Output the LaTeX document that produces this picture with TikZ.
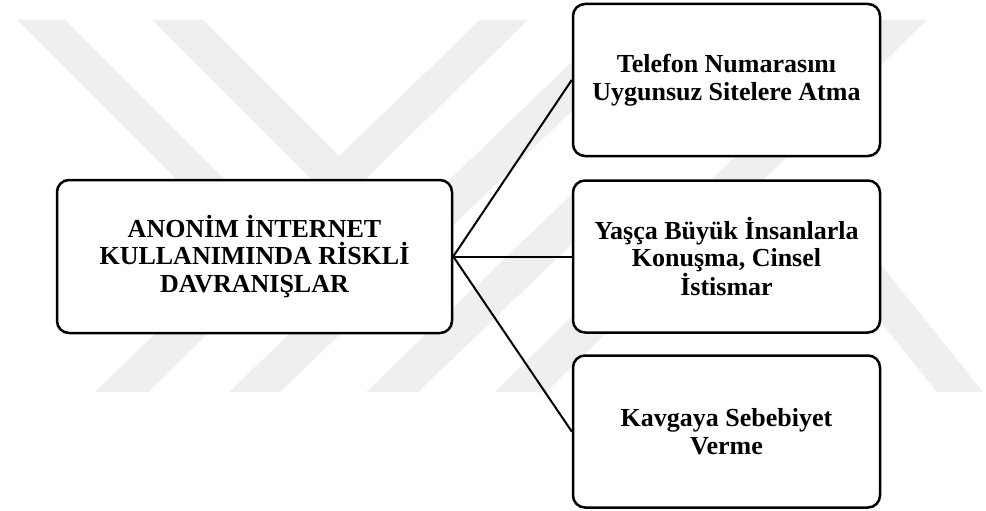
\documentclass[tikz,border=0pt]{standalone}
\usepackage{fontspec}
\setmainfont{Liberation Serif}
\definecolor{wmgray}{RGB}{239,239,239}
\tikzset{
  riskbox/.style={draw=black, line width=2.5pt, rounded corners=12pt, fill=white,
    align=center, font=\fontsize{26}{27.5}\selectfont\bfseries, inner sep=0pt},
  leftbox/.style={riskbox, minimum width=395pt, minimum height=153pt},
  rightbox/.style={riskbox, minimum width=307pt, minimum height=152pt},
  link/.style={draw=black, line width=2pt},
  wmark/.style={fill=wmgray, draw=none}
}
\begin{document}
\begin{tikzpicture}[x=1pt,y=-1pt]
\useasboundingbox (0,0) rectangle (986,511);
\fill[white] (0,0) rectangle (986,511);
% faint watermark
\fill[wmark] (17,20) -- (65,20) -- (305,260) -- (257,260) -- cycle;
\fill[wmark] (152,20) -- (203,20) -- (383,200) -- (332,200) -- cycle;
\fill[wmark] (480,20) -- (528,20) -- (148,392) -- (95,392) -- cycle;
\fill[wmark] (229,392) -- (280,392) -- (656,30) -- (605,30) -- cycle;
\fill[wmark] (366,392) -- (418,392) -- (628,190) -- (576,190) -- cycle;
\fill[wmark] (875,20) -- (927,20) -- (546,392) -- (495,392) -- cycle;
\fill[wmark] (807,230) -- (853,230) -- (983,392) -- (937,392) -- cycle;
% nodes
\node[leftbox]  (L) at (254.5,256.5) {ANONİM İNTERNET\\KULLANIMINDA RİSKLİ\\DAVRANIŞLAR};
\node[rightbox] (T) at (726.5,80)    {Telefon Numarasını\\Uygunsuz Sitelere Atma};
\node[rightbox] (M) at (726.5,256.5) {Yaşça Büyük İnsanlarla\\Konuşma, Cinsel\\İstismar};
\node[rightbox] (B) at (726.5,431.5) {Kavgaya Sebebiyet\\Verme};
% connectors
\draw[link] (L.east) -- (T.west);
\draw[link] (L.east) -- (M.west);
\draw[link] (L.east) -- (B.west);
\end{tikzpicture}
\end{document}
